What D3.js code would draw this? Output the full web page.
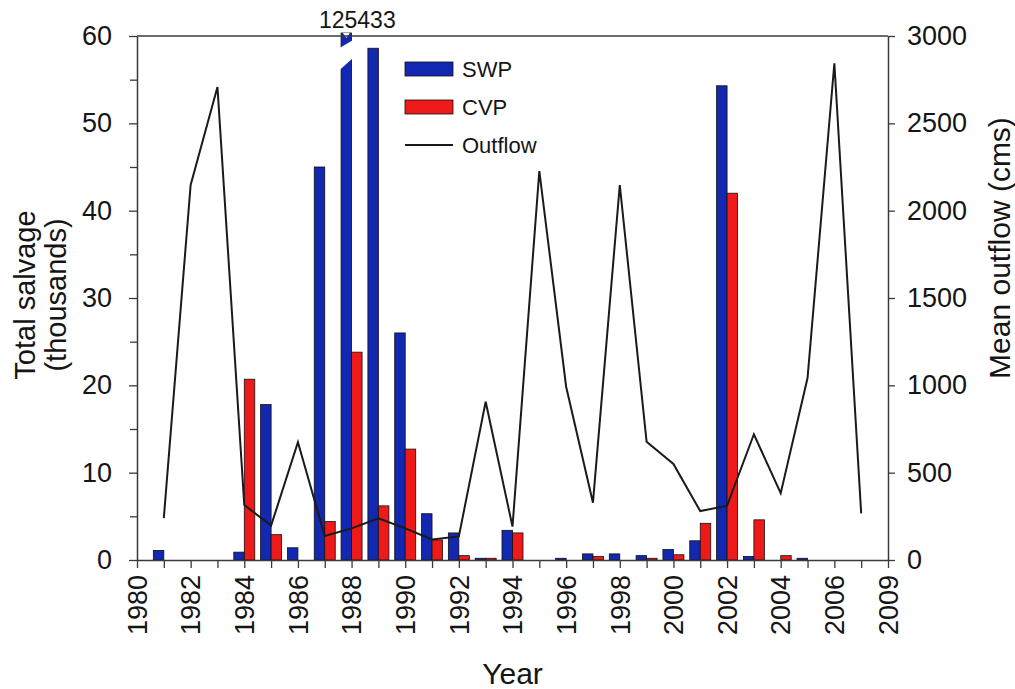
<!DOCTYPE html>
<html><head><meta charset="utf-8">
<script src="https://cdn.jsdelivr.net/npm/d3@7"></script>
<style>
body{margin:0;background:#fff}
text{font-family:"Liberation Sans",Arial,Helvetica,sans-serif;fill:#151515}
</style>
</head><body>
<svg id="chart" width="1015" height="689"></svg>
<script>
// ---- data ----
const years = [1981,1982,1983,1984,1985,1986,1987,1988,1989,1990,1991,1992,1993,1994,1995,1996,1997,1998,1999,2000,2001,2002,2003,2004,2005,2006,2007];
const swp = [1.1,0,0,0.9,17.8,1.4,45.0,125.433,58.6,26.0,5.3,3.1,0.2,3.4,0,0.2,0.7,0.7,0.5,1.2,2.2,54.3,0.4,0,0.2,0,0];
const cvp = [0,0,0,20.7,2.9,0,4.4,23.8,6.2,12.7,2.3,0.5,0.2,3.1,0,0,0.4,0,0.2,0.6,4.2,42.0,4.6,0.5,0,0,0];
const outflow = [240,2147,2708,315,197,674,137,181,239,181,118,135,906,191,2227,992,328,2147,677,550,280,311,720,382,1042,2844,267];
const tickYears = [1980,1982,1984,1986,1988,1990,1992,1994,1996,1998,2000,2002,2004,2006,2008];
const tickLabels = ["1980","1982","1984","1986","1988","1990","1992","1994","1996","1998","2000","2002","2004","2006","2009"];
const minorYears = [1980,1981,1982,1983,1984,1985,1986,1987,1988,1989,1990,1991,1992,1993,1994,1995,1996,1997,1998,1999,2000,2001,2002,2003,2004,2005,2006,2007,2008];
const leftTicks = [0,10,20,30,40,50,60];
const leftMinor = [5,15,25,35,45,55];
const rightTicks = [0,500,1000,1500,2000,2500,3000];
const seriesNames = ["SWP","CVP","Outflow"];
const seriesColors = ["#1228b0","#ee1a1a","#1a1a1a"];

// ---- layout ----
const L = 137, R = 888, T = 36, B = 560;
const svg = d3.select("#chart");
const x = d3.scaleLinear().domain([1980, 2008]).range([L, R]);
const y = d3.scaleLinear().domain([0, 60]).range([B, T]);
const y2 = d3.scaleLinear().domain([0, 3000]).range([B, T]);
const bw = 10.5;
const axisColor = "#3a3a3a";

// bars
const data = years.map((yr, i) => ({yr, swp: swp[i], cvp: cvp[i], out: outflow[i]}));
const gb = svg.append("g");
function topOf(v){ return v > 60 ? y(60) - 3 : y(v); }
gb.selectAll("rect.swp").data(data.filter(d => d.swp > 0)).enter().append("rect")
  .attr("x", d => x(d.yr) - bw).attr("width", bw)
  .attr("y", d => topOf(d.swp)).attr("height", d => B - topOf(d.swp))
  .attr("fill", seriesColors[0]).attr("stroke", "#111").attr("stroke-width", 0.8);
gb.selectAll("rect.cvp").data(data.filter(d => d.cvp > 0)).enter().append("rect")
  .attr("x", d => x(d.yr)).attr("width", bw)
  .attr("y", d => topOf(d.cvp)).attr("height", d => B - topOf(d.cvp))
  .attr("fill", seriesColors[1]).attr("stroke", "#111").attr("stroke-width", 0.8);

// axis break for off-scale bars
const broken = data.filter(d => d.swp > 60);
broken.forEach(d => {
  const x0 = x(d.yr) - bw - 1.5, x1 = x(d.yr) + 1.5;
  const t = y(60);
  svg.append("polygon")
    .attr("points", `${x0},${t+34} ${x1},${t+22} ${x1},${t+4} ${x0},${t+12}`)
    .attr("fill", "#fff");
  const cx = x(d.yr) - bw / 2, ty = topOf(d.swp);
  svg.append("polygon")
    .attr("points", `${cx-3.5},${ty} ${cx+3.5},${ty} ${cx},${ty+5}`)
    .attr("fill", "#fff");
  svg.append("text").attr("x", cx + 11).attr("y", 28)
    .attr("text-anchor", "middle").attr("font-size", 23)
    .text(Math.round(d.swp * 1000));
});

// outflow line
svg.append("path").datum(data)
  .attr("fill", "none").attr("stroke", seriesColors[2]).attr("stroke-width", 2)
  .attr("stroke-linejoin", "miter")
  .attr("d", d3.line().x(d => x(d.yr)).y(d => y2(d.out)));

// axes
function styleAxis(g){
  g.selectAll("path.domain").attr("stroke", axisColor).attr("stroke-width", 1.5);
  g.selectAll(".tick line").attr("stroke", axisColor).attr("stroke-width", 1.3);
  g.selectAll(".tick text").attr("font-family", null).attr("fill", "#151515");
}
// top border
svg.append("line").attr("x1", L).attr("x2", R).attr("y1", T).attr("y2", T)
  .attr("stroke", axisColor).attr("stroke-width", 1.5);

const gl = svg.append("g").attr("transform", `translate(${L},0)`)
  .call(d3.axisLeft(y).tickValues(leftTicks).tickSize(8).tickSizeOuter(0).tickPadding(17));
styleAxis(gl); gl.selectAll(".tick text").attr("font-size", 27);
const glm = svg.append("g").attr("transform", `translate(${L},0)`)
  .call(d3.axisLeft(y).tickValues(leftMinor).tickSize(7).tickSizeOuter(0).tickFormat(""));
styleAxis(glm); glm.select("path.domain").remove();

const gr = svg.append("g").attr("transform", `translate(${R},0)`)
  .call(d3.axisRight(y2).tickValues(rightTicks).tickSize(7).tickSizeOuter(0).tickPadding(12).tickFormat(d3.format("d")));
styleAxis(gr); gr.selectAll(".tick text").attr("font-size", 27);

const gx = svg.append("g").attr("transform", `translate(0,${B})`)
  .call(d3.axisBottom(x).tickValues(minorYears).tickSize(8).tickSizeOuter(0).tickFormat(""));
styleAxis(gx);
svg.append("g").selectAll("text").data(tickYears).enter().append("text")
  .attr("transform", d => `translate(${x(d)},${B + 15}) rotate(-90)`)
  .attr("text-anchor", "end").attr("dy", "0.36em").attr("font-size", 27)
  .text((d, i) => tickLabels[i]);

// titles
svg.append("text").attr("x", (L + R) / 2).attr("y", 684).attr("text-anchor", "middle")
  .attr("font-size", 30).text("Year");
svg.append("text").attr("transform", `translate(35,${(T+B)/2 - 3}) rotate(-90)`)
  .attr("text-anchor", "middle").attr("font-size", 29).text("Total salvage");
svg.append("text").attr("transform", `translate(66,${(T+B)/2 - 3}) rotate(-90)`)
  .attr("text-anchor", "middle").attr("font-size", 29).text("(thousands)");
svg.append("text").attr("transform", `translate(1010,248) rotate(-90)`)
  .attr("text-anchor", "middle").attr("font-size", 30).text("Mean outflow (cms)");

// legend
const lg = svg.append("g").attr("transform", "translate(405,62)");
const rowY = [0, 38, 76];
seriesNames.forEach((name, i) => {
  const g = lg.append("g").attr("transform", `translate(0,${rowY[i]})`);
  if (i < 2) {
    g.append("rect").attr("x", 0).attr("y", 0).attr("width", 48).attr("height", 14)
      .attr("fill", seriesColors[i]).attr("stroke", "#111").attr("stroke-width", 0.8);
  } else {
    g.append("line").attr("x1", 0).attr("x2", 48).attr("y1", 7).attr("y2", 7)
      .attr("stroke", seriesColors[i]).attr("stroke-width", 1.8);
  }
  g.append("text").attr("x", 57).attr("y", 7).attr("dy", "0.36em")
    .attr("font-size", 22).text(name);
});
</script>
</body></html>
